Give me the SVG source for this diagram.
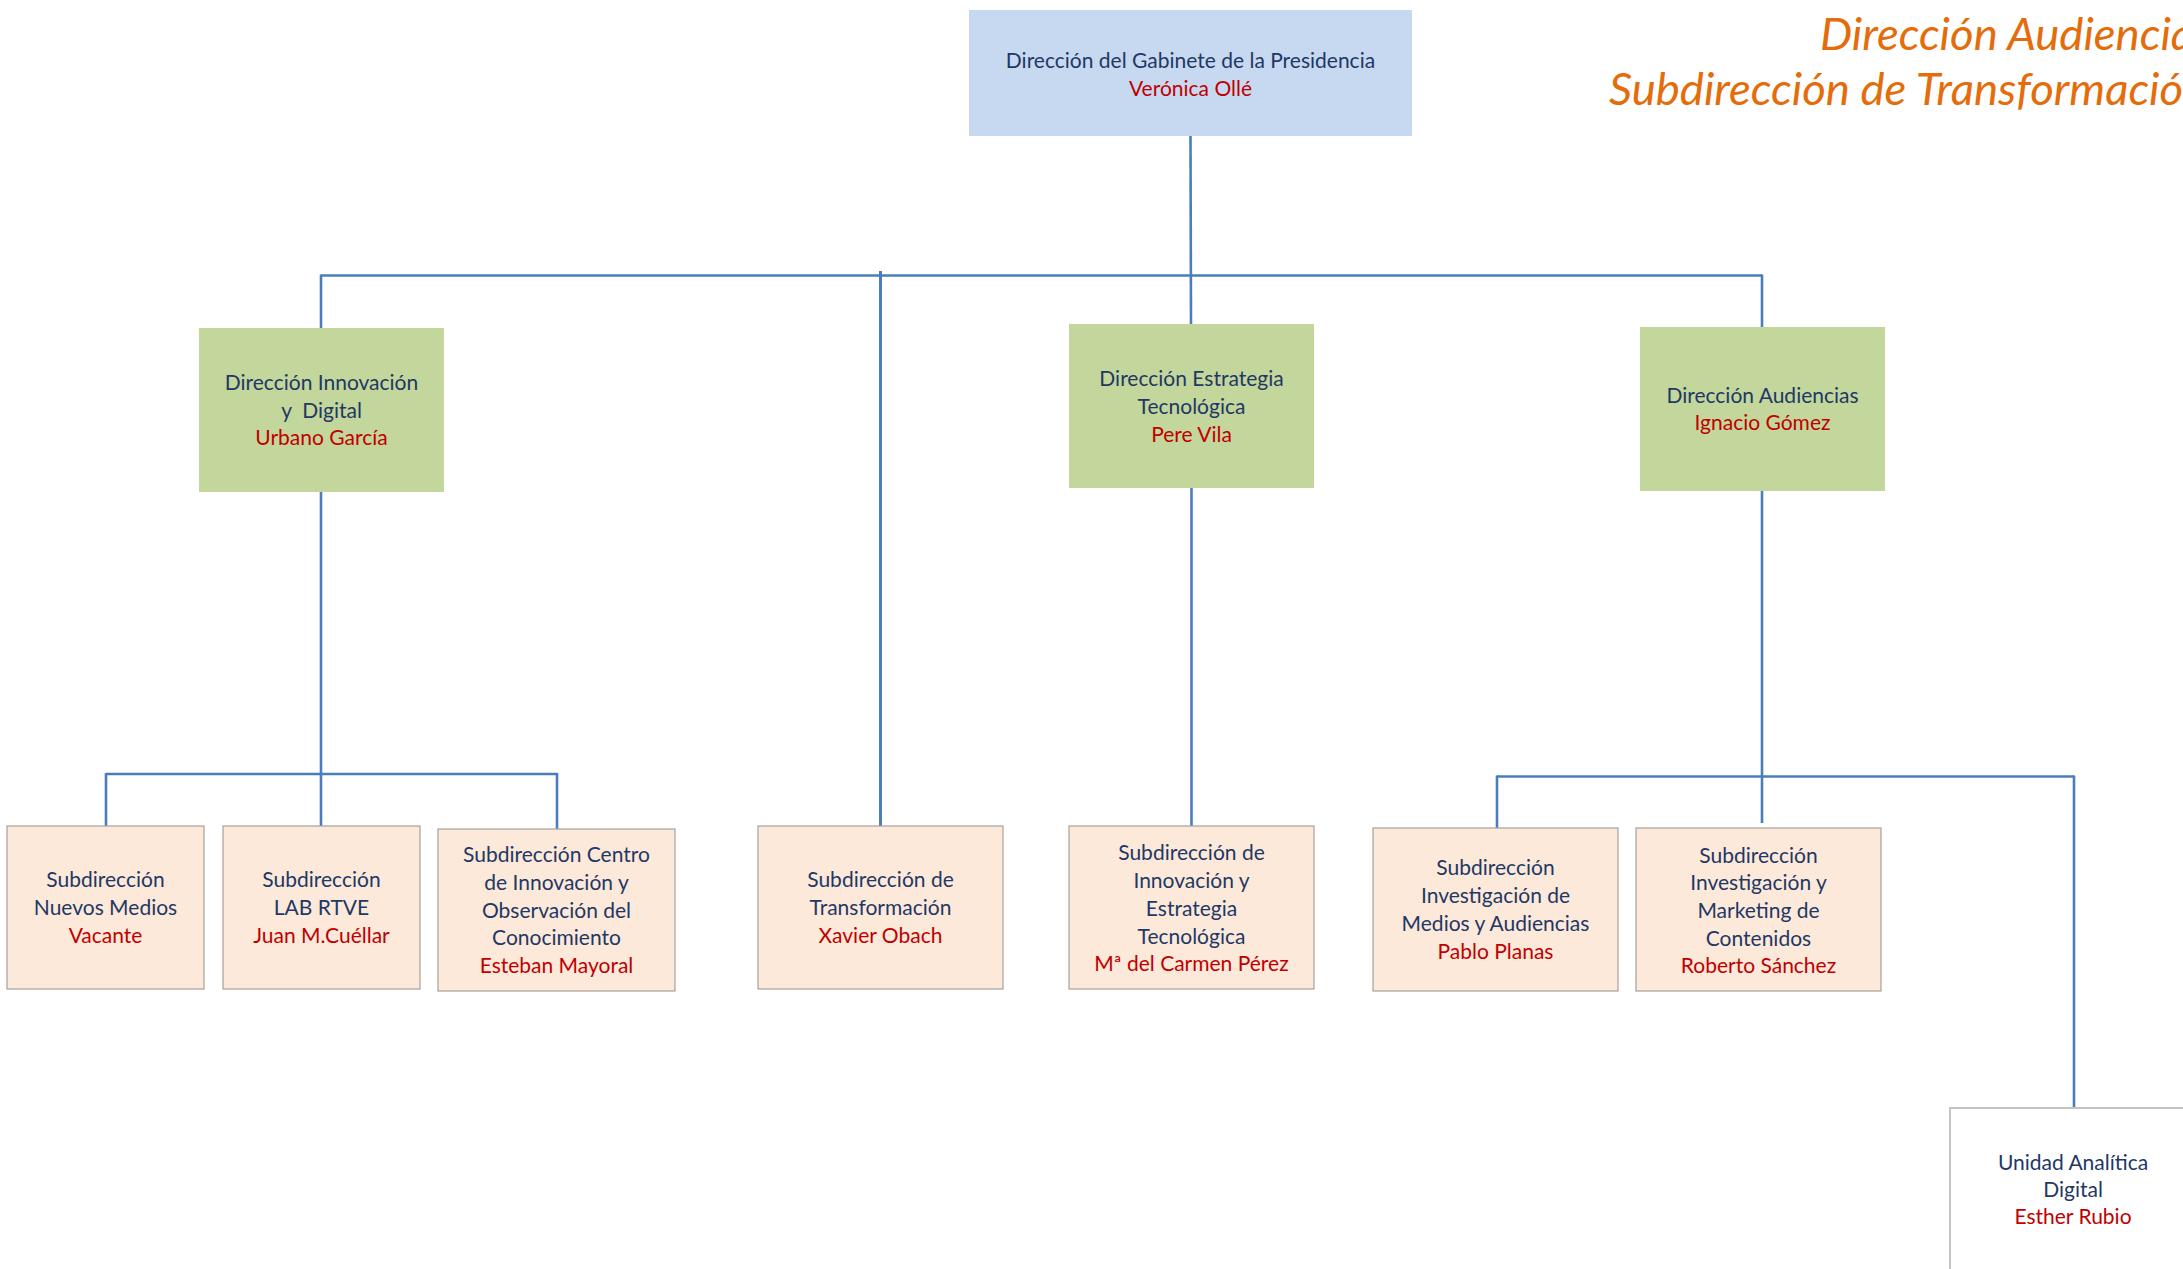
<svg xmlns="http://www.w3.org/2000/svg" width="2183" height="1269" viewBox="0 0 2183 1269">
<style>
.t{font-family:Lato,"Open Sans","Liberation Sans",sans-serif;font-size:21px;text-anchor:middle;fill:#1F3864}
.n{fill:#C00000}
.blue{fill:#C6D9F1}
.green{fill:#C3D69B}
.peach{fill:#FCE9DA;stroke:#A8A09A;stroke-width:1.2}
.white{fill:#FFFFFF;stroke:#C4C4C4;stroke-width:2}
.c line{stroke:#4A7EBB;stroke-width:2.6;stroke-linecap:butt}
.title{font-family:Lato,"Open Sans","Liberation Sans",sans-serif;font-style:italic;font-size:45.5px;fill:#E46C0A}
</style>
<rect width="2183" height="1269" fill="#FFFFFF"/>
<g id="title">
<text class="title" x="1820" y="50">Dirección Audiencias</text>
<text class="title" x="1609" y="105">Subdirección de Transformación</text>
</g>
<g class="c" id="connectors">
<line x1="1190.5" y1="136" x2="1191" y2="324"/>
<line x1="321" y1="275.5" x2="1762" y2="275.5"/>
<line x1="321" y1="274.5" x2="321" y2="328"/>
<line x1="1762" y1="274.5" x2="1762" y2="327"/>
<line x1="880.5" y1="271" x2="880.5" y2="826" style="stroke-width:3"/>
<line x1="321" y1="492" x2="321" y2="826"/>
<line x1="106" y1="774" x2="557" y2="774"/>
<line x1="106" y1="773" x2="106" y2="826"/>
<line x1="557" y1="773" x2="557" y2="829"/>
<line x1="1191.5" y1="488" x2="1191.5" y2="826"/>
<line x1="1762" y1="491" x2="1762" y2="823"/>
<line x1="1497" y1="776.5" x2="2074" y2="776.5"/>
<line x1="1497" y1="775.5" x2="1497" y2="828"/>
<line x1="2074" y1="775.5" x2="2074" y2="1108"/>
</g>
<g id="n-gabinete">
<rect class="blue" x="969" y="10" width="443" height="126"/>
<text class="t" x="1190.5" y="68">Dirección del Gabinete de la Presidencia</text>
<text class="t n" x="1190.5" y="96">Verónica Ollé</text>
</g>
<g id="n-innovacion">
<rect class="green" x="199" y="328" width="245" height="164"/>
<text class="t" x="321.5" y="390">Dirección Innovación</text>
<text class="t" x="321.5" y="418" style="white-space:pre">y  Digital</text>
<text class="t n" x="321.5" y="445">Urbano García</text>
</g>
<g id="n-estrategia">
<rect class="green" x="1069" y="324" width="245" height="164"/>
<text class="t" x="1191.5" y="386">Dirección Estrategia</text>
<text class="t" x="1191.5" y="414">Tecnológica</text>
<text class="t n" x="1191.5" y="442">Pere Vila</text>
</g>
<g id="n-audiencias">
<rect class="green" x="1640" y="327" width="245" height="164"/>
<text class="t" x="1762.5" y="403">Dirección Audiencias</text>
<text class="t n" x="1762.5" y="430">Ignacio Gómez</text>
</g>
<g id="n-nuevos">
<rect class="peach" x="7" y="826" width="197" height="163"/>
<text class="t" x="105.5" y="887">Subdirección</text>
<text class="t" x="105.5" y="915">Nuevos Medios</text>
<text class="t n" x="105.5" y="943">Vacante</text>
</g>
<g id="n-lab">
<rect class="peach" x="223" y="826" width="197" height="163"/>
<text class="t" x="321.5" y="887">Subdirección</text>
<text class="t" x="321.5" y="915">LAB RTVE</text>
<text class="t n" x="321.5" y="943">Juan M.Cuéllar</text>
</g>
<g id="n-centro">
<rect class="peach" x="438" y="829" width="237" height="162"/>
<text class="t" x="556.5" y="862">Subdirección Centro</text>
<text class="t" x="556.5" y="890">de Innovación y</text>
<text class="t" x="556.5" y="918">Observación del</text>
<text class="t" x="556.5" y="945">Conocimiento</text>
<text class="t n" x="556.5" y="973">Esteban Mayoral</text>
</g>
<g id="n-transformacion">
<rect class="peach" x="758" y="826" width="245" height="163"/>
<text class="t" x="880.5" y="887">Subdirección de</text>
<text class="t" x="880.5" y="915">Transformación</text>
<text class="t n" x="880.5" y="943">Xavier Obach</text>
</g>
<g id="n-innov-estrategia">
<rect class="peach" x="1069" y="826" width="245" height="163"/>
<text class="t" x="1191.5" y="860">Subdirección de</text>
<text class="t" x="1191.5" y="888">Innovación y</text>
<text class="t" x="1191.5" y="916">Estrategia</text>
<text class="t" x="1191.5" y="944">Tecnológica</text>
<text class="t n" x="1191.5" y="971">Mª del Carmen Pérez</text>
</g>
<g id="n-medios">
<rect class="peach" x="1373" y="828" width="245" height="163"/>
<text class="t" x="1495.5" y="875">Subdirección</text>
<text class="t" x="1495.5" y="903">Investigación de</text>
<text class="t" x="1495.5" y="931">Medios y Audiencias</text>
<text class="t n" x="1495.5" y="959">Pablo Planas</text>
</g>
<g id="n-marketing">
<rect class="peach" x="1636" y="828" width="245" height="163"/>
<text class="t" x="1758.5" y="863">Subdirección</text>
<text class="t" x="1758.5" y="890">Investigación y</text>
<text class="t" x="1758.5" y="918">Marketing de</text>
<text class="t" x="1758.5" y="946">Contenidos</text>
<text class="t n" x="1758.5" y="973">Roberto Sánchez</text>
</g>
<g id="n-analitica">
<rect class="white" x="1950" y="1108" width="246" height="170"/>
<text class="t" x="2073" y="1170">Unidad Analítica</text>
<text class="t" x="2073" y="1197">Digital</text>
<text class="t n" x="2073" y="1224">Esther Rubio</text>
</g>
</svg>
